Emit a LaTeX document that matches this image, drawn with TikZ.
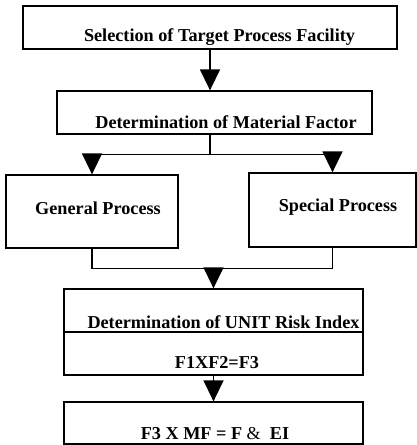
\documentclass[tikz,border=0pt]{standalone}
\usepackage{fontspec}
\setmainfont{Liberation Serif}
\usetikzlibrary{arrows.meta}
\begin{document}
\begin{tikzpicture}[x=1pt,y=-1pt,
  box/.style={draw,line width=1.3pt,inner sep=0pt},
  txt/.style={font=\fontsize{18.2}{20}\selectfont\bfseries,inner sep=0pt},
  flow/.style={line width=1.5pt,-{Triangle[width=20pt,length=21pt]}},
  wire/.style={line width=1.5pt}]
\useasboundingbox (0,0) rectangle (417,445);
\node[box,minimum width=374pt,minimum height=43pt] (sel) at (210,27.5) {};
\node[box,minimum width=315pt,minimum height=43pt] (dmf) at (214.5,112.5) {};
\node[box,minimum width=172pt,minimum height=73pt] (gen) at (92,211.5) {};
\node[box,minimum width=167pt,minimum height=74pt] (spc) at (332.5,210) {};
\node[box,minimum width=299pt,minimum height=86pt] (uri) at (213.5,332) {};
\node[box,minimum width=299pt,minimum height=42pt] (res) at (213.5,423) {};
\node[txt] (selt) at (219.5,37) {Selection of Target Process Facility};
\node[txt] (dmft) at (226,122) {Determination of Material Factor};
\node[txt] (gent) at (98,208) {General Process};
\node[txt] (spct) at (338,207) {Special Process};
\node[txt] (urit) at (223.5,322) {Determination of UNIT Risk Index};
\node[txt] (f3t) at (217,363) {F1XF2=F3};
\node[txt] (rest) at (215,434) {F3 X MF = F {\mdseries\&}\ \ EI};
\draw[box] (uri.west) -- (uri.east);
\draw[flow] (sel.south) -- (sel.south |- dmf.north);
\draw[wire] (sel.south |- dmf.south) -- ++(0,20) coordinate (split);
\draw[wire] (gen.north |- split) -- (spc.north |- split);
\draw[flow] (gen.north |- split) -- (gen.north);
\draw[flow] (spc.north |- split) -- (spc.north);
\draw[wire] (gen.south) -- ++(0,20) coordinate (merge) -| (spc.south);
\draw[flow] (uri.north |- merge) -- (uri.north);
\draw[flow] (uri.south) -- (res.north);
\end{tikzpicture}
\end{document}
